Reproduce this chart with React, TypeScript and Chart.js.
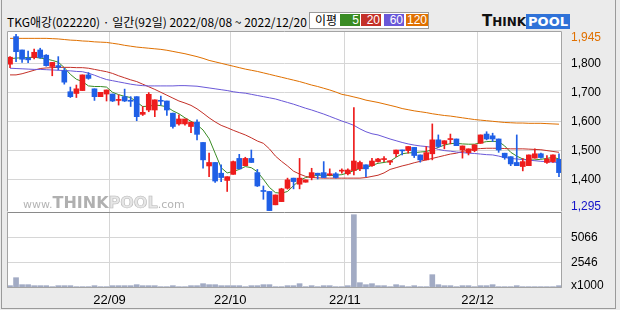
import React, { useEffect, useRef } from 'react';
import { Chart, registerables } from 'chart.js';
Chart.register(...registerables);

const dates = [
  '08/08','08/09','08/10','08/11','08/12','08/16','08/17','08/18','08/19','08/22','08/23','08/24','08/25','08/26','08/29','08/30','08/31',
  '09/01','09/02','09/05','09/06','09/07','09/08','09/13','09/14','09/15','09/16','09/19','09/20','09/21','09/22','09/23','09/26','09/27','09/28','09/29','09/30',
  '10/04','10/05','10/06','10/07','10/11','10/12','10/13','10/14','10/17','10/18','10/19','10/20','10/21','10/24','10/25','10/26','10/27','10/28','10/31',
  '11/01','11/02','11/03','11/04','11/07','11/08','11/09','11/10','11/11','11/14','11/15','11/16','11/17','11/18','11/21','11/22','11/23','11/24','11/25','11/28','11/29','11/30',
  '12/01','12/02','12/05','12/06','12/07','12/08','12/09','12/12','12/13','12/14','12/15','12/16','12/19','12/20'
];

const openP = [1797,1892,1846,1818,1820,1846,1828,1789,1792,1774,1702,1696,1706,1760,1712,1685,1694,1694,1672,1685,1670,1685,1624,1639,1639,1672,1670,1628,1591,1591,1582,1597,1527,1446,1458,1421,1396,1417,1472,1447,1472,1423,1360,1358,1312,1323,1369,1404,1383,1390,1406,1421,1423,1415,1419,1428,1419,1430,1436,1450,1447,1461,1468,1459,1488,1501,1499,1510,1484,1467,1488,1536,1522,1537,1539,1501,1492,1499,1524,1556,1550,1539,1490,1478,1458,1444,1447,1473,1488,1458,1461,1469];
const highP = [1823,1900,1846,1842,1849,1852,1830,1803,1823,1783,1718,1725,1760,1768,1712,1700,1708,1694,1691,1711,1685,1685,1651,1699,1674,1687,1670,1628,1622,1608,1597,1605,1527,1490,1458,1450,1409,1463,1486,1476,1501,1434,1377,1358,1346,1369,1404,1404,1472,1398,1438,1421,1461,1436,1423,1436,1436,1647,1463,1450,1472,1472,1478,1464,1501,1501,1513,1510,1484,1513,1591,1553,1533,1556,1539,1515,1505,1519,1553,1564,1559,1539,1490,1478,1553,1472,1484,1505,1490,1482,1484,1488];
const lowP = [1785,1806,1803,1802,1815,1817,1790,1757,1777,1728,1682,1682,1706,1745,1672,1685,1670,1668,1656,1668,1651,1602,1620,1633,1616,1656,1620,1576,1587,1587,1561,1536,1438,1409,1389,1392,1358,1417,1436,1447,1458,1375,1331,1292,1312,1323,1366,1367,1367,1390,1398,1401,1406,1412,1404,1421,1415,1415,1430,1409,1444,1459,1461,1450,1478,1484,1490,1475,1459,1467,1467,1510,1505,1522,1516,1473,1484,1495,1524,1536,1530,1493,1469,1447,1447,1429,1447,1473,1473,1455,1458,1409];
const closeP = [1821,1840,1814,1812,1838,1820,1792,1803,1786,1735,1685,1712,1760,1748,1685,1700,1708,1670,1675,1670,1669,1616,1631,1693,1674,1669,1639,1582,1608,1608,1597,1555,1467,1458,1394,1406,1409,1461,1436,1472,1458,1377,1358,1292,1346,1367,1398,1392,1404,1398,1423,1415,1406,1419,1406,1430,1432,1463,1458,1436,1463,1470,1470,1464,1501,1498,1513,1482,1467,1492,1536,1513,1533,1539,1516,1515,1505,1519,1553,1539,1539,1501,1475,1453,1447,1461,1484,1488,1475,1470,1484,1423];

const ma5 = [1816,1818,1819,1820,1821,1818,1815,1810,1804,1785,1762,1745,1737,1722,1720,1720,1718,1700,1692,1686,1682,1666,1651,1652,1656,1654,1650,1636,1626,1612,1600,1588,1570,1540,1490,1440,1422,1427,1434,1444,1440,1426,1400,1372,1354,1352,1358,1378,1396,1406,1410,1414,1414,1413,1414,1416,1422,1430,1437,1440,1448,1455,1458,1462,1476,1488,1491,1492,1494,1496,1502,1510,1518,1523,1524,1522,1521,1521,1526,1530,1531,1530,1515,1493,1480,1470,1466,1467,1469,1472,1476,1470];
const ma20 = [1760,1760,1764,1770,1776,1782,1784,1785,1786,1786,1786,1785,1785,1783,1779,1775,1771,1765,1757,1750,1743,1737,1728,1719,1710,1700,1690,1680,1670,1663,1655,1643,1628,1612,1598,1586,1578,1569,1561,1553,1543,1532,1524,1505,1480,1462,1446,1428,1418,1410,1406,1405,1404,1404,1404,1404,1404,1404,1404,1406,1410,1414,1422,1434,1440,1446,1451,1457,1462,1467,1472,1477,1482,1487,1490,1496,1500,1504,1506,1507,1507,1507,1506,1505,1505,1505,1504,1503,1502,1499,1496,1493];
const ma60 = [1783,1782,1781,1780,1779,1779,1778,1777,1776,1775,1774,1772,1771,1766,1759,1751,1744,1740,1736,1732,1728,1725,1723,1722,1722,1722,1722,1722,1723,1723,1722,1721,1718,1715,1712,1709,1706,1702,1699,1697,1693,1689,1685,1681,1677,1671,1665,1659,1652,1645,1639,1632,1625,1617,1609,1601,1594,1586,1574,1564,1557,1553,1546,1539,1533,1527,1522,1518,1515,1513,1510,1503,1499,1497,1494,1492,1490,1489,1487,1485,1484,1480,1475,1472,1470,1468,1466,1464,1462,1461,1459,1458];
const ma120 = [1886,1886,1886,1886,1886,1886,1886,1885,1884,1882,1880,1879,1877,1876,1874,1873,1872,1869,1866,1862,1859,1856,1854,1852,1850,1848,1845,1841,1837,1833,1828,1823,1817,1810,1805,1800,1795,1790,1785,1780,1776,1772,1767,1762,1757,1752,1747,1742,1737,1731,1725,1720,1714,1708,1701,1693,1689,1684,1679,1673,1669,1665,1660,1655,1650,1644,1640,1636,1633,1630,1626,1623,1620,1618,1615,1612,1609,1606,1604,1602,1600,1598,1596,1595,1594,1594,1593,1593,1593,1592,1591,1590];

const volume = [235,1040,336,336,235,235,235,134,235,235,235,134,134,134,235,134,134,235,235,235,235,336,235,235,235,134,134,235,134,134,235,235,437,336,336,235,235,235,235,134,235,235,336,336,134,134,235,235,437,
  134,235,134,235,235,134,134,235,7390,538,336,437,235,235,134,336,235,134,235,134,134,1344,336,235,235,134,235,235,134,235,235,336,134,134,134,235,134,134,134,134,134,134,235];

const priceTicks = [1400, 1500, 1600, 1700, 1800];
const volTicks = [2546, 5066];
const maxLabel = '1,945';
const minLabel = '1,295';
const volUnit = 'x1000';
const titleText = 'TKG애강(022220) · 일간(92일) 2022/08/08 ~ 2022/12/20';

const UP = '#ee1c1c';
const DOWN = '#1f5fe6';
const C5 = '#3a8c24';
const C20 = '#c43028';
const C60 = '#6a58d8';
const C120 = '#e07000';
const GRID = '#d6d6d6';
const FRAME = '#a4a4a4';
const FONT = '"Liberation Sans", Arial, sans-serif';

const isMonthStart = (i: number) =>
  i > 0 && i < dates.length && dates[i].slice(0, 2) !== dates[i - 1].slice(0, 2);

const candleColors = openP.map((o, i) => (closeP[i] >= o ? UP : DOWN));

const framePlugin = (sepTop: boolean) => ({
  id: 'frame' + (sepTop ? 'v' : 'p'),
  beforeDraw(chart: any) {
    const { ctx, chartArea: a } = chart;
    ctx.save();
    ctx.fillStyle = '#ffffff';
    ctx.fillRect(a.left, a.top, a.right - a.left, a.bottom - a.top);
    ctx.restore();
  },
  afterDraw(chart: any) {
    const { ctx, chartArea: a } = chart;
    ctx.save();
    ctx.lineWidth = 1;
    ctx.strokeStyle = FRAME;
    const l = Math.round(a.left) + 0.5;
    const r = Math.round(a.right) - 0.5;
    const t = Math.round(a.top) + 0.5;
    const b = Math.round(a.bottom) - 0.5;
    ctx.beginPath();
    ctx.moveTo(l, t); ctx.lineTo(l, b);
    ctx.moveTo(r, t); ctx.lineTo(r, b);
    if (sepTop) { ctx.moveTo(l, b); ctx.lineTo(r, b); }
    else { ctx.moveTo(l, t); ctx.lineTo(r, t); }
    ctx.stroke();
    if (sepTop) {
      ctx.strokeStyle = '#8a8a8a';
      ctx.beginPath();
      ctx.moveTo(l, t); ctx.lineTo(r, t);
      ctx.stroke();
    }
    ctx.restore();
  },
});

const xGridColor = (ctx: any) => (isMonthStart(ctx.index) ? GRID : 'rgba(0,0,0,0)');

function App() {
  const priceRef = useRef<HTMLCanvasElement>(null);
  const volRef = useRef<HTMLCanvasElement>(null);

  useEffect(() => {
    const maLine = (data: number[], color: string) => ({
      type: 'line' as const,
      data,
      borderColor: color,
      borderWidth: 1,
      pointRadius: 0,
      tension: 0,
      order: 5,
    });
    const priceChart = new Chart(priceRef.current as HTMLCanvasElement, {
      type: 'bar',
      data: {
        labels: dates,
        datasets: [
          maLine(ma120, C120),
          maLine(ma60, C60),
          maLine(ma20, C20),
          maLine(ma5, C5),
          {
            type: 'bar',
            data: lowP.map((l, i) => [l, highP[i]]),
            backgroundColor: candleColors,
            barThickness: 1,
            grouped: false,
            order: 2,
          } as any,
          {
            type: 'bar',
            data: openP.map((o, i) => [o, closeP[i]]),
            backgroundColor: candleColors,
            barThickness: 5,
            minBarLength: 1,
            grouped: false,
            order: 1,
          } as any,
        ],
      },
      options: {
        animation: false,
        responsive: false,
        events: [],
        layout: { padding: { left: 7, top: 31, right: 0, bottom: 0 } },
        plugins: { legend: { display: false }, tooltip: { enabled: false } },
        scales: {
          x: {
            type: 'category',
            offset: true,
            grid: { offset: true, color: xGridColor, drawTicks: false, lineWidth: 1 },
            border: { display: false },
            ticks: { display: false, autoSkip: false },
            afterFit: (s: any) => { s.height = 0; s.paddingLeft = 0; s.paddingRight = 0; },
          },
          y: {
            type: 'linear',
            position: 'right',
            min: 1287.2,
            max: 1911.4,
            afterBuildTicks: (s: any) => {
              s.ticks = [{ value: 1304.5 }, ...priceTicks.map((v) => ({ value: v })), { value: 1887 }];
            },
            grid: {
              drawTicks: false,
              color: (ctx: any) => (ctx.tick && priceTicks.includes(ctx.tick.value) ? GRID : 'rgba(0,0,0,0)'),
            },
            border: { display: false },
            ticks: {
              padding: 9,
              font: { family: FONT, size: 12 },
              color: (ctx: any) => (ctx.tick.value > 1850 ? '#e07000' : ctx.tick.value < 1350 ? '#1414c8' : '#000000'),
              callback: (v: any) => (v > 1850 ? maxLabel : v < 1350 ? minLabel : Number(v).toLocaleString('en-US')),
            },
            afterFit: (s: any) => { s.width = 58; s.paddingTop = 0; s.paddingBottom = 0; },
          },
        },
      } as any,
      plugins: [framePlugin(false)],
    });

    const volChart = new Chart(volRef.current as HTMLCanvasElement, {
      type: 'bar',
      data: {
        labels: dates,
        datasets: [
          {
            data: volume,
            backgroundColor: '#a2abc4',
            barThickness: 5,
          },
        ],
      },
      options: {
        animation: false,
        responsive: false,
        events: [],
        layout: { padding: { left: 7, top: 0, right: 0, bottom: 0 } },
        plugins: { legend: { display: false }, tooltip: { enabled: false } },
        scales: {
          x: {
            type: 'category',
            offset: true,
            grid: { offset: true, color: xGridColor, drawTicks: false, lineWidth: 1 },
            border: { display: false },
            ticks: {
              autoSkip: false,
              maxRotation: 0,
              minRotation: 0,
              padding: 5,
              labelOffset: -3,
              color: '#000000',
              font: { family: FONT, size: 13 },
              callback: (_v: any, i: number) => (isMonthStart(i) ? '22/' + dates[i].slice(0, 2) : ''),
            },
            afterFit: (s: any) => { s.height = 22; s.paddingLeft = 0; s.paddingRight = 0; },
          },
          y: {
            type: 'linear',
            position: 'right',
            min: 0,
            max: 7661,
            afterBuildTicks: (s: any) => {
              s.ticks = [{ value: 202 }, ...volTicks.map((v) => ({ value: v }))];
            },
            grid: {
              drawTicks: false,
              color: (ctx: any) => (ctx.tick && volTicks.includes(ctx.tick.value) ? GRID : 'rgba(0,0,0,0)'),
            },
            border: { display: false },
            ticks: {
              padding: 9,
              color: '#000000',
              font: { family: FONT, size: 12 },
              callback: (v: any) => (v < 1000 ? volUnit : String(v)),
            },
            afterFit: (s: any) => { s.width = 58; s.paddingTop = 0; s.paddingBottom = 0; },
          },
        },
      } as any,
      plugins: [framePlugin(true)],
    });

    return () => {
      priceChart.destroy();
      volChart.destroy();
    };
  }, []);

  const box = (bg: string, text: string, left: number, width: number) => (
    <div
      style={{
        position: 'absolute', left, top: 1, width, height: 12, background: bg, color: '#fff',
        fontFamily: FONT, fontSize: 12, lineHeight: '12px', textAlign: 'right', paddingRight: 1, boxSizing: 'border-box',
      }}
    >
      {text}
    </div>
  );

  return (
    <div style={{ position: 'absolute', left: 0, top: 0, width: 620, height: 310, background: '#ebebeb', overflow: 'hidden' }}>
      <div style={{ position: 'absolute', left: 1, top: 0, width: 613, height: 308, borderLeft: '1px solid #9a9a9a', borderRight: '1px solid #9a9a9a', borderBottom: '1px solid #9a9a9a' }} />
      <div style={{ position: 'absolute', left: 7, top: 14, fontFamily: '"Noto Sans CJK KR", sans-serif', fontSize: 12, lineHeight: '16px', whiteSpace: 'nowrap', color: '#000' }}>
        {titleText}
      </div>
      <div style={{ position: 'absolute', left: 309, top: 12, width: 120, height: 17, border: '1px solid #9a9a9a', background: '#fff', boxSizing: 'border-box' }}>
        <div style={{ position: 'absolute', left: 5, top: -1, fontFamily: '"Noto Sans CJK KR", sans-serif', fontSize: 12, lineHeight: '16px', color: '#000' }}>이평</div>
        {box(C5, '5', 30, 20)}
        {box(C20, '20', 51, 20)}
        {box(C60, '60', 74, 20)}
        {box(C120, '120', 96, 22)}
      </div>
      <div style={{ position: 'absolute', left: 482, top: 13, height: 16, whiteSpace: 'nowrap', fontFamily: '"DejaVu Sans", sans-serif', fontWeight: 'bold', lineHeight: '16px' }}>
        <span style={{ fontSize: 15, color: '#111' }}>T</span>
        <span style={{ fontSize: 12, color: '#111' }}>HINK</span>
        <span style={{ fontSize: 13, color: '#fff', background: '#2f72d8', padding: '0 2px' }}>POOL</span>
      </div>
      <canvas ref={priceRef} width={620} height={212} style={{ position: 'absolute', left: 0, top: 0 }} />
      <canvas ref={volRef} width={620} height={98} style={{ position: 'absolute', left: 0, top: 212 }} />
      <div style={{ position: 'absolute', left: 23, top: 194, whiteSpace: 'nowrap', pointerEvents: 'none', fontFamily: '"DejaVu Sans", sans-serif', lineHeight: '18px' }}>
        <span style={{ fontSize: 11, color: '#b4b4b4' }}>www.</span>
        <span style={{ fontSize: 16, fontWeight: 'bold', color: '#b0b0b0' }}>THINK</span>
        <span style={{ fontSize: 16, fontWeight: 'bold', color: '#e6e6e6', WebkitTextStroke: '0.6px #b8b8b8' }}>POOL</span>
        <span style={{ fontSize: 11, color: '#b4b4b4' }}>.com</span>
      </div>
    </div>
  );
}

export default App;
